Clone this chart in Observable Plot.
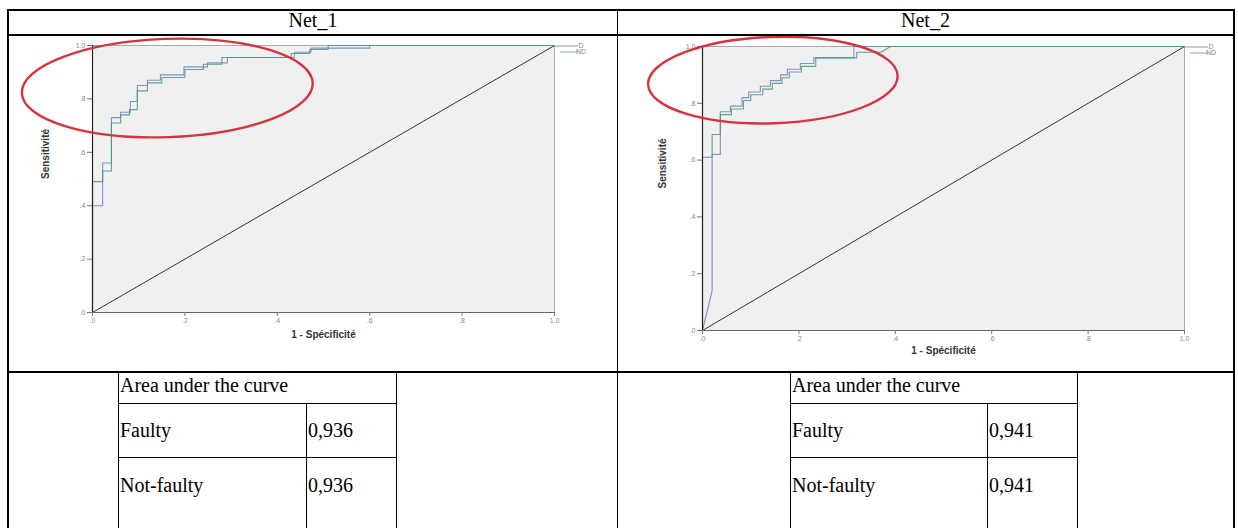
<!DOCTYPE html>
<html><head><meta charset="utf-8">
<script src="https://cdn.jsdelivr.net/npm/d3@7"></script>
<script src="https://cdn.jsdelivr.net/npm/@observablehq/plot@0.6"></script>
<style>
html,body{margin:0;padding:0;background:#fff;}
#page{position:relative;width:1238px;height:528px;overflow:hidden;font-family:"Liberation Serif","Times New Roman",serif;color:#000;}
.ln{position:absolute;background:#000;}
.tx{position:absolute;font-size:20px;line-height:20px;white-space:nowrap;}
.plotbox{position:absolute;}
.plotbox svg{display:block;}
</style></head><body><div id="page"></div>
<script>
// ---------- data ----------
const panels = ["Net_1", "Net_2"];
const tickValues = [0, 0.2, 0.4, 0.6, 0.8, 1];
const tickLabels = [".0", ".2", ".4", ".6", ".8", "1.0"];
const seriesNames = ["D", "ND"];
const xTitle = "1 - Spécificité";
const yTitle = "Sensitivité";
const diagonal = [0, 1];

// Net_1 ROC vertices (1 - specificity, sensitivity)
const net1_D_fpr = [0,0,0.022,0.022,0.041,0.041,0.061,0.061,0.082,0.082,0.097,0.097,0.119,0.119,0.147,0.147,0.198,0.198,0.249,0.249,0.292,0.292,0.437,0.437,0.473,0.473,0.6,0.6,1];
const net1_D_tpr = [0,0.40,0.40,0.56,0.56,0.73,0.73,0.75,0.75,0.79,0.79,0.85,0.85,0.87,0.87,0.89,0.89,0.92,0.92,0.935,0.935,0.955,0.955,0.975,0.975,0.99,0.99,1,1];
const net1_ND_fpr = [0,0,0.022,0.022,0.041,0.041,0.061,0.061,0.08,0.08,0.097,0.097,0.119,0.119,0.15,0.15,0.2,0.2,0.24,0.24,0.28,0.28,0.43,0.43,0.47,0.47,0.51,0.51,1];
const net1_ND_tpr = [0,0.49,0.49,0.53,0.53,0.71,0.71,0.74,0.74,0.76,0.76,0.83,0.83,0.86,0.86,0.88,0.88,0.91,0.91,0.93,0.93,0.955,0.955,0.97,0.97,0.985,0.985,1,1];

// Net_2 ROC vertices
const net2_D_fpr = [0,0.02,0.02,0.037,0.037,0.058,0.058,0.082,0.082,0.096,0.096,0.12,0.12,0.141,0.141,0.162,0.162,0.176,0.176,0.203,0.203,0.231,0.231,0.314,0.314,1];
const net2_D_tpr = [0,0.14,0.62,0.62,0.77,0.77,0.79,0.79,0.82,0.82,0.84,0.84,0.86,0.86,0.88,0.88,0.90,0.90,0.92,0.92,0.94,0.94,0.96,0.96,1,1];
const net2_ND_fpr = [0,0,0.02,0.02,0.037,0.037,0.06,0.06,0.085,0.085,0.1,0.1,0.125,0.125,0.145,0.145,0.165,0.165,0.18,0.18,0.205,0.205,0.235,0.235,0.32,0.32,0.37,0.39,1];
const net2_ND_tpr = [0,0.61,0.61,0.69,0.69,0.76,0.76,0.78,0.78,0.81,0.81,0.83,0.83,0.85,0.85,0.87,0.87,0.89,0.89,0.91,0.91,0.93,0.93,0.96,0.96,0.98,0.98,1,1];

// red highlight ellipses (data units: centre, radii)
const net1_ellipse = {cx: 0.163, cy: 0.839, rx: 0.315, ry: 0.184, angle: -2};
const net2_ellipse = {cx: 0.147, cy: 0.880, rx: 0.259, ry: 0.152, angle: -2};

// area under the curve tables
const aucTitle = "Area under the curve";
const aucRows = ["Faulty", "Not-faulty"];
const net1_auc = ["0,936", "0,936"];
const net2_auc = ["0,941", "0,941"];

// ---------- helpers ----------
const page = document.getElementById("page");
const SVGNS = "http://www.w3.org/2000/svg";
function line(x, y, w, h) {
  const d = document.createElement("div");
  d.className = "ln";
  Object.assign(d.style, {left: x + "px", top: y + "px", width: w + "px", height: h + "px"});
  page.appendChild(d);
}
function text(str, x, y, opts = {}) {
  const d = document.createElement("div");
  d.className = "tx";
  d.textContent = str;
  Object.assign(d.style, {left: x + "px", top: y + "px"}, opts);
  page.appendChild(d);
  return d;
}
const colors = {D: "#6f7fc8", ND: "#3f9a7a"};

function rows(name, fpr, tpr) {
  return fpr.map((x, i) => ({series: name, x, y: tpr[i]}));
}

function ellipseMark(e) {
  return (index, scales) => {
    const g = document.createElementNS(SVGNS, "g");
    if (!scales || typeof scales.x !== "function") return g;
    const cx = scales.x(e.cx), cy = scales.y(e.cy);
    const rx = Math.abs(scales.x(e.cx + e.rx) - cx);
    const ry = Math.abs(scales.y(e.cy + e.ry) - cy);
    const el = document.createElementNS(SVGNS, "ellipse");
    el.setAttribute("cx", cx); el.setAttribute("cy", cy);
    el.setAttribute("rx", rx); el.setAttribute("ry", ry);
    el.setAttribute("transform", `rotate(${e.angle} ${cx} ${cy})`);
    el.setAttribute("fill", "none");
    el.setAttribute("stroke", "#d7333d");
    el.setAttribute("stroke-width", 2.4);
    g.appendChild(el);
    return g;
  };
}

function legendMark() {
  return (index, scales, values, dims) => {
    const g = document.createElementNS(SVGNS, "g");
    const x0 = dims.width - dims.marginRight;
    const y0 = dims.marginTop;
    seriesNames.forEach((s, i) => {
      const l = document.createElementNS(SVGNS, "line");
      l.setAttribute("x1", x0 + (i ? 6 : 0)); l.setAttribute("x2", x0 + 24);
      l.setAttribute("y1", y0 + 1 + i * 6); l.setAttribute("y2", y0 + 1 + i * 6);
      l.setAttribute("stroke", i ? "#7fb5a0" : "#999");
      l.setAttribute("stroke-width", 1);
      g.appendChild(l);
      const t = document.createElementNS(SVGNS, "text");
      t.setAttribute("x", x0 + 27); t.setAttribute("y", y0 + 1 + i * 6);
      t.setAttribute("dy", "0.35em");
      t.setAttribute("font-size", 7);
      t.setAttribute("fill", "#888");
      t.setAttribute("font-family", "Liberation Sans, Arial, sans-serif");
      t.textContent = s;
      g.appendChild(t);
    });
    return g;
  };
}

function roc(cfg) {
  const data = [...rows("D", cfg.dF, cfg.dT), ...rows("ND", cfg.nF, cfg.nT)];
  const fmt = d => tickLabels[tickValues.indexOf(d)];
  return Plot.plot({
    width: cfg.width, height: cfg.height,
    marginLeft: cfg.ml, marginRight: cfg.mr, marginTop: cfg.mt, marginBottom: cfg.mb,
    x: {domain: [0, 1]},
    y: {domain: [0, 1]},
    style: {background: "transparent", fontFamily: "Liberation Sans, Arial, sans-serif", fontSize: "7px", color: "#888"},
    marks: [
      Plot.frame({fill: "#f0f0f0", stroke: "#a8a8a8"}),
      Plot.line(diagonal, {x: d => d, y: d => d, stroke: "#333", strokeWidth: 1}),
      Plot.line(data, {x: "x", y: "y", z: "series", stroke: d => colors[d.series], strokeWidth: 1.1, strokeOpacity: 0.85}),
      Plot.ruleX([0], {stroke: "#222", strokeWidth: 1.2}),
      Plot.ruleY([0], {stroke: "#666", strokeWidth: 1.2}),
      Plot.axisX({ticks: tickValues, tickFormat: fmt, tickSize: 4, tickPadding: 2, label: null, stroke: "#777", fill: "#888"}),
      Plot.axisY({ticks: tickValues, tickFormat: fmt, tickSize: 5, tickPadding: 2, label: null, stroke: "#777", fill: "#888"}),
      Plot.text([xTitle], {text: d => d, frameAnchor: "bottom", dy: cfg.xTitleDy, fontWeight: "bold", fontSize: 10, fill: "#333", letterSpacing: "0.4px"}),
      Plot.text([yTitle], {text: d => d, frameAnchor: "left", dx: cfg.yTitleDx, rotate: -90, fontWeight: "bold", fontSize: 10, fill: "#333"}),
      legendMark(),
      ellipseMark(cfg.ellipse)
    ]
  });
}

// ---------- table frame ----------
line(7, 9, 1228, 2);      // top
line(7, 9, 2, 540);       // left
line(1233, 9, 2, 540);    // right
line(7, 34, 1228, 2);     // header separator
line(617, 9, 1, 540);     // middle
line(7, 371, 1228, 2);    // row separator

// headers
text(panels[0], 9, 10, {width: "608px", textAlign: "center"});
text(panels[1], 618, 10, {width: "615px", textAlign: "center"});

// plots
const p1 = roc({dF: net1_D_fpr, dT: net1_D_tpr, nF: net1_ND_fpr, nT: net1_ND_tpr, ellipse: net1_ellipse,
  width: 607, height: 335, ml: 83, mr: 62, mt: 9, mb: 59, xTitleDy: 25, yTitleDx: -47});
const b1 = document.createElement("div"); b1.className = "plotbox";
Object.assign(b1.style, {left: "9px", top: "36px", width: "607px", height: "335px", overflow: "hidden"});
b1.appendChild(p1); page.appendChild(b1);

const p2 = roc({dF: net2_D_fpr, dT: net2_D_tpr, nF: net2_ND_fpr, nT: net2_ND_tpr, ellipse: net2_ellipse,
  width: 614, height: 335, ml: 83, mr: 49, mt: 10, mb: 41, xTitleDy: 23, yTitleDx: -40});
const b2 = document.createElement("div"); b2.className = "plotbox";
Object.assign(b2.style, {left: "619px", top: "36px", width: "614px", height: "335px", overflow: "hidden"});
b2.appendChild(p2); page.appendChild(b2);

// AUC tables
function aucTable(x0, xm, x1, values) {
  const top = 373, r1 = 403, r2 = 457, bottom = 540;
  line(x0, top, 1, bottom - top);
  line(x1, top, 1, bottom - top);
  line(xm, r1, 1, bottom - r1);
  line(x0, r1, x1 - x0 + 1, 1);
  line(x0, r2, x1 - x0 + 1, 1);
  text(aucTitle, x0 + 2, 375);
  const centers = [430, 485];
  aucRows.forEach((r, i) => {
    text(r, x0 + 2, centers[i] - 10);
    text(values[i], xm + 2, centers[i] - 10);
  });
}
aucTable(118, 306, 396, net1_auc);
aucTable(790, 987, 1077, net2_auc);
</script></body></html>
